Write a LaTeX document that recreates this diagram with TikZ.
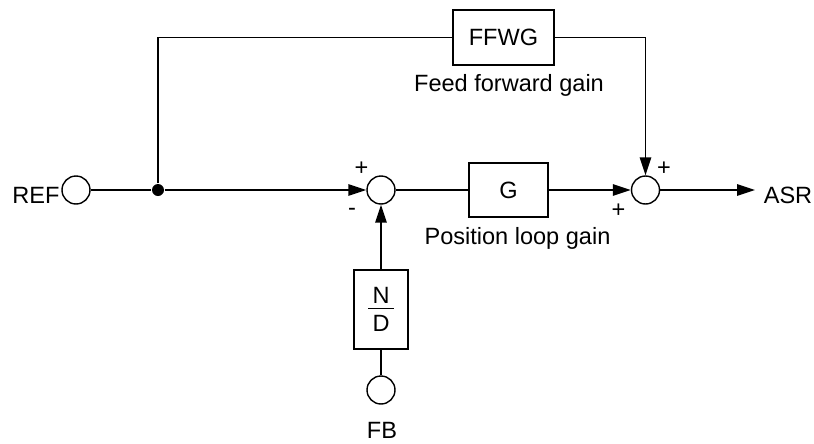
\documentclass[tikz,border=0pt]{standalone}
\usepackage{fontspec}
\setmainfont{Liberation Sans}
\usetikzlibrary{arrows.meta}
\begin{document}
\begin{tikzpicture}[x=0.02cm, y=-0.02cm, line width=0.8pt, font=\fontsize{13.4}{16}\selectfont,
    portStyle/.style={circle, draw, minimum size=0.56cm, inner sep=0pt},
    sumStyle/.style={circle, draw, minimum size=0.56cm, inner sep=0pt},
    dotStyle/.style={circle, fill, minimum size=0.24cm, inner sep=0pt},
    ffwgStyle/.style={rectangle, draw, minimum width=2.02cm, minimum height=1.1cm},
    gainStyle/.style={rectangle, draw, minimum width=1.58cm, minimum height=1.08cm},
    ndStyle/.style={rectangle, draw, minimum width=1.08cm, minimum height=1.58cm, align=center},
    labelStyle/.style={inner sep=0pt},
    arrowStyle/.style={-{Triangle[length=0.36cm, width=0.23cm]}}]
    \useasboundingbox (0, 0) rectangle (814, 443);

    \node[portStyle]  (ref_C)  at ( 76, 190) {};
    \node[dotStyle]   (dot_0)  at (158, 190) {};
    \node[sumStyle]   (sum_1)  at (381, 190) {};
    \node[gainStyle]  (gain_0) at (508.5, 190) {G};
    \node[sumStyle]   (sum_2)  at (645.5, 190) {};
    \coordinate       (asr_P)  at (755, 190);
    \node[ffwgStyle]  (ffwg_0) at (503.5, 37.5) {FFWG};
    \node[ndStyle]    (nd_0)   at (381, 309.5) {N\\[-12.8pt]\rule{0.52cm}{0.6pt}\\[-3.5pt]D};
    \node[portStyle]  (fb_C)   at (381, 390) {};

    \node[labelStyle, anchor=base] (ref_T)  at ( 36, 203) {REF};
    \node[labelStyle, anchor=base] (asr_T)  at (788, 203) {ASR};
    \node[labelStyle, anchor=base] (fb_T)   at (382, 438) {FB};
    \node[labelStyle, anchor=base] (ffwg_T) at (509, 91) {Feed forward gain};
    \node[labelStyle, anchor=base] (gain_T) at (517.5, 244) {Position loop gain};

    \node[labelStyle] (sum_1_P) at (361.5, 169) {+};
    \node[labelStyle] (sum_1_M) at (352, 211.5) {-};
    \node[labelStyle] (sum_2_P) at (664, 169) {+};
    \node[labelStyle] (sum_2_Q) at (618.5, 210.5) {+};

    \draw (ref_C) -- (dot_0);
    \draw[arrowStyle] (dot_0) -- (sum_1);
    \draw (dot_0) |- (ffwg_0);
    \draw[arrowStyle] (ffwg_0) -| (sum_2);
    \draw (sum_1) -- (gain_0);
    \draw[arrowStyle] (gain_0) -- (sum_2);
    \draw[arrowStyle] (sum_2) -- (asr_P);
    \draw[arrowStyle] (nd_0) -- (sum_1);
    \draw (fb_C) -- (nd_0);
\end{tikzpicture}
\end{document}
